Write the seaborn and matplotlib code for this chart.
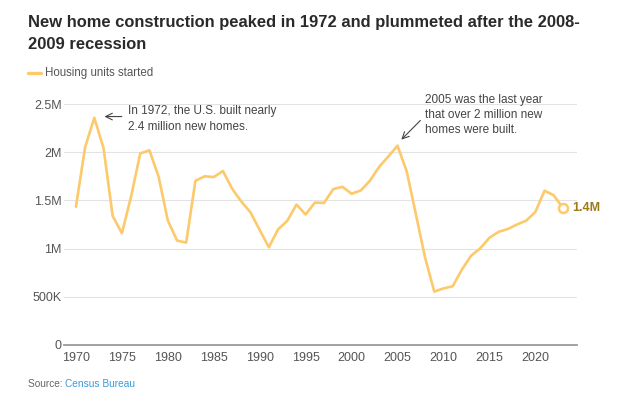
import matplotlib
matplotlib.use("Agg")
import matplotlib.pyplot as plt
import seaborn as sns
import pandas as pd

# data: housing units started per year (thousands)
years = list(range(1970, 2024))
starts = [1434, 2052, 2357, 2045, 1338, 1160, 1538, 1987, 2020, 1745,
          1292, 1084, 1062, 1703, 1750, 1742, 1805, 1621, 1488, 1376,
          1193, 1014, 1200, 1288, 1457, 1354, 1477, 1474, 1617, 1641,
          1569, 1603, 1705, 1848, 1956, 2068, 1801, 1355, 906, 554,
          587, 609, 781, 925, 1003, 1112, 1174, 1203, 1250, 1290,
          1380, 1601, 1553, 1420]
y_ticks = [0, 500, 1000, 1500, 2000, 2500]
y_labels = ['0', '500K', '1M', '1.5M', '2M', '2.5M']
x_ticks = list(range(1970, 2021, 5))

df = pd.DataFrame({'year': years, 'starts': starts})

sns.set_theme(style="white")
plt.rcParams['font.family'] = ['Liberation Sans', 'DejaVu Sans']

line_color = '#fcc96b'
text_gray = '#555555'
note_color = '#444444'

fig = plt.figure(figsize=(6.17, 3.97), dpi=100)
ax = fig.add_axes([0.1037, 0.131, 0.831, 0.607])

sns.lineplot(data=df, x='year', y='starts', color=line_color, linewidth=1.9, ax=ax)
ax.plot(years[-1], starts[-1], marker='o', markersize=6.5, markerfacecolor='white',
        markeredgecolor=line_color, markeredgewidth=1.8, zorder=5)

ax.set_xlim(1968.7, 2024.5)
ax.set_ylim(0, 2500)
ax.set_yticks(y_ticks)
ax.set_yticklabels(y_labels)
ax.set_xticks(x_ticks)
ax.set_xlabel('')
ax.set_ylabel('')
ax.tick_params(axis='both', labelsize=9, colors='#555555', length=0)
ax.tick_params(axis='y', pad=1.5)
ax.tick_params(axis='x', pad=5)

ax.grid(axis='y', color='#e3e3e3', linewidth=0.8)
ax.grid(axis='x', visible=False)
for s in ['top', 'right', 'left']:
    ax.spines[s].set_visible(False)
ax.spines['bottom'].set_color('#9a9a9a')
ax.spines['bottom'].set_linewidth(1.3)
ax.set_axisbelow(True)

# end label
ax.annotate('1.4M', xy=(years[-1], starts[-1]), xytext=(6.5, 0), textcoords='offset points',
            ha='left', va='center', fontsize=9, fontweight='bold', color='#9c7b1c',
            annotation_clip=False)

# annotations
ax.annotate('', xy=(1972.8, 2370), xytext=(1975.3, 2370),
            arrowprops=dict(arrowstyle='->', color=note_color, lw=0.8),
            annotation_clip=False)
ax.text(1975.7, 2345, 'In 1972, the U.S. built nearly\n2.4 million new homes.',
        fontsize=8.5, color=note_color, ha='left', va='center', linespacing=1.35)

ax.annotate('', xy=(2005.2, 2110), xytext=(2007.7, 2350),
            arrowprops=dict(arrowstyle='->', color=note_color, lw=0.8),
            annotation_clip=False)
ax.text(2008.0, 2385, '2005 was the last year\nthat over 2 million new\nhomes were built.',
        fontsize=8.5, color=note_color, ha='left', va='center', linespacing=1.3)

# title, legend, source
fig.text(0.045, 0.962, 'New home construction peaked in 1972 and plummeted after the 2008-\n2009 recession',
         fontsize=11.9, fontweight='bold', color='#2a2a2a', ha='left', va='top', linespacing=1.55)
fig.lines.append(plt.Line2D([0.046, 0.066], [0.817, 0.817], transform=fig.transFigure,
                            color=line_color, linewidth=2.4))
fig.text(0.073, 0.817, 'Housing units started', fontsize=8.3, color=text_gray, ha='left', va='center')

t = fig.text(0.045, 0.033, 'Source: ', fontsize=7.3, color='#666666', ha='left', va='center')
fig.canvas.draw()
bb = t.get_window_extent()
fig.text(bb.x1 / fig.bbox.width, 0.033, 'Census Bureau', fontsize=7.3, color='#3a9ad9',
         ha='left', va='center')

fig.savefig('out.png', dpi=100)
